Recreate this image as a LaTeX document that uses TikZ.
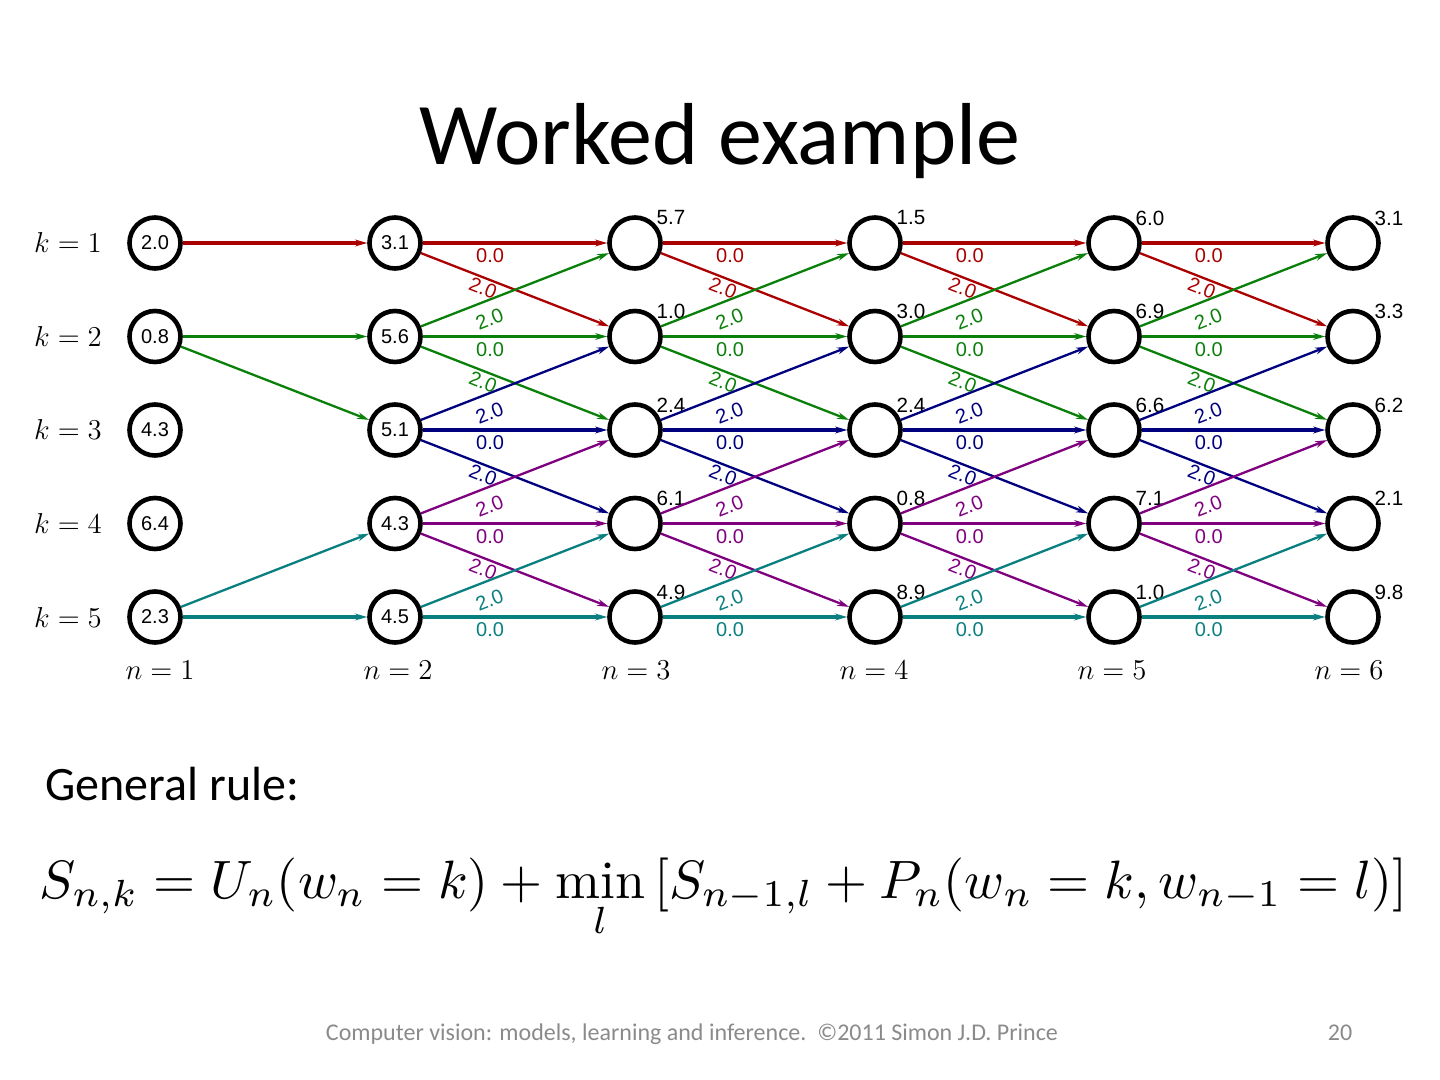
\documentclass[tikz,border=0pt]{standalone}
\usepackage{fontspec}
\usetikzlibrary{arrows.meta,calc}
\newfontfamily\carlito{Carlito}
\newfontfamily\arialf{Liberation Sans}
\definecolor{c1}{HTML}{AA0000}
\definecolor{c2}{HTML}{0A800A}
\definecolor{c3}{HTML}{00007F}
\definecolor{c4}{HTML}{7F007F}
\definecolor{c5}{HTML}{0A7F7F}
\definecolor{footgray}{HTML}{8A8A8A}
\begin{document}
\begin{tikzpicture}[x=0.5pt,y=-0.5pt,
  st/.style={circle,draw=black,line width=2.3pt,minimum size=25.5pt,inner sep=0pt,font=\arialf\fontsize{10}{12}\selectfont},
  val/.style={font=\arialf\fontsize{10.3}{12}\selectfont,inner sep=0pt},
  hedge/.style={line width=1.6pt,-{Stealth[length=6pt,width=3.4pt]}},
  dedge/.style={line width=1.15pt,-{Stealth[length=6pt,width=3.4pt]}},
  elab/.style={font=\arialf\fontsize{10}{12}\selectfont,inner sep=0pt},
  mlab/.style={font=\fontsize{14.5}{17}\selectfont,inner sep=0pt},
]
\useasboundingbox (0,0) rectangle (1440,1080);

% title
\node[font=\carlito\fontsize{44}{50}\selectfont,anchor=base] (title) at (720,165) {Worked example};

% column 1 and 2 nodes (values inside)
\foreach \v [count=\k] in {2.0,0.8,4.3,6.4,2.3}{
  \node[st] (n-1-\k) at (155,{243+93.5*(\k-1)}) {\v};
}
\foreach \v [count=\k] in {3.1,5.6,5.1,4.3,4.5}{
  \node[st] (n-2-\k) at (395,{243+93.5*(\k-1)}) {\v};
}
% columns 3..6 (values above right)
\foreach \v [count=\k] in {5.7,1.0,2.4,6.1,4.9}{
  \node[st] (n-3-\k) at (635,{243+93.5*(\k-1)}) {};
  \node[val] (v-3-\k) at ($(n-3-\k)+(36,-25)$) {\v};
}
\foreach \v [count=\k] in {1.5,3.0,2.4,0.8,8.9}{
  \node[st] (n-4-\k) at (875,{243+93.5*(\k-1)}) {};
  \node[val] (v-4-\k) at ($(n-4-\k)+(36,-25)$) {\v};
}
\foreach \v [count=\k] in {6.0,6.9,6.6,7.1,1.0}{
  \node[st] (n-5-\k) at (1114,{243+93.5*(\k-1)}) {};
  \node[val] (v-5-\k) at ($(n-5-\k)+(36,-25)$) {\v};
}
\foreach \v [count=\k] in {3.1,3.3,6.2,2.1,9.8}{
  \node[st] (n-6-\k) at (1353,{243+93.5*(\k-1)}) {};
  \node[val] (v-6-\k) at ($(n-6-\k)+(36,-25)$) {\v};
}

% row labels
\foreach \k in {1,...,5}{
  \node[mlab] (k-\k) at (68,{243+93.5*(\k-1)}) {$k=\k$};
}
% column labels
\foreach \c/\x in {1/160,2/398,3/636,4/874,5/1112,6/1349}{
  \node[mlab] (nl-\c) at (\x,670) {$n=\c$};
}

% edges column 1 -> 2
\draw[hedge,c1] (n-1-1) -- (n-2-1);
\draw[hedge,c2] (n-1-2) -- (n-2-2);
\draw[dedge,c2] (n-1-2) -- (n-2-3);
\draw[dedge,c5] (n-1-5) -- (n-2-4);
\draw[hedge,c5] (n-1-5) -- (n-2-5);

% edges columns 2..5 -> next
\foreach \c in {2,...,5}{
  \pgfmathtruncatemacro\d{\c+1}
  \foreach \k in {1,...,5}{
    \draw[hedge,c\k] (n-\c-\k) -- node[elab,pos=0.365,below=2pt]{0.0} (n-\d-\k);
    \ifnum\k>1
      \pgfmathtruncatemacro\u{\k-1}
      \draw[dedge,c\k] (n-\c-\k) -- node[elab,pos=0.33,sloped,below=5pt]{2.0} (n-\d-\u);
    \fi
    \ifnum\k<5
      \pgfmathtruncatemacro\w{\k+1}
      \draw[dedge,c\k] (n-\c-\k) -- node[elab,pos=0.35,sloped,below=1pt]{2.0} (n-\d-\w);
    \fi
  }
}

% general rule
\node[font=\carlito\fontsize{24}{28}\selectfont,anchor=base west,inner sep=0pt] (gr) at (45,800) {General rule:};
\node[anchor=base west,inner sep=0pt] (formula) at (39,898) {\resizebox{684pt}{!}{$\displaystyle S_{n,k}=U_n(w_n=k)+\min_l\,[S_{n-1,l}+P_n(w_n=k,w_{n-1}=l)]$}};

% footer
\node[font=\carlito\fontsize{12}{14}\selectfont,text=footgray,anchor=base] (foot) at (692,1040) {Computer vision: models, learning and inference.\ \ ©2011 Simon J.D. Prince};
\node[font=\carlito\fontsize{12}{14}\selectfont,text=footgray,anchor=base] (page) at (1340,1040) {20};
\end{tikzpicture}
\end{document}
